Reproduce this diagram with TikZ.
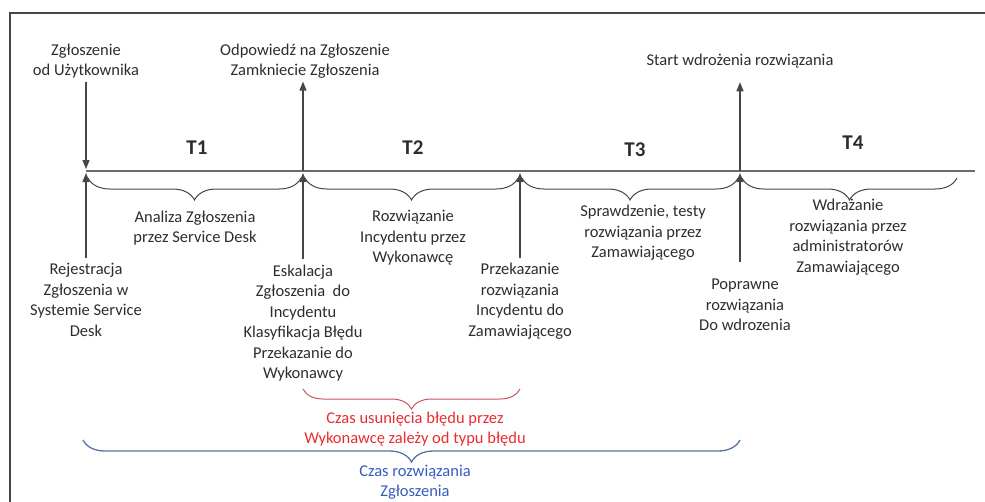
\documentclass[tikz,border=0pt]{standalone}
\usepackage{fontspec}
\setmainfont{Carlito}
\usetikzlibrary{decorations.pathreplacing,arrows.meta}
\definecolor{inkgray}{RGB}{45,45,45}
\definecolor{linegray}{RGB}{70,70,70}
\definecolor{errred}{RGB}{232,45,50}
\definecolor{bracered}{RGB}{200,85,95}
\definecolor{timeblue}{RGB}{55,90,190}
\definecolor{braceblue}{RGB}{85,115,165}
\tikzset{
  lbl/.style={align=center, font=\fontsize{16.5}{20.5}\selectfont, text=inkgray, inner sep=0pt},
  period/.style={font=\fontsize{21}{24}\selectfont\bfseries, text=inkgray, inner sep=0pt},
  tick/.style={draw=linegray, line width=1.3pt, -{Triangle[length=9pt,width=7pt]}},
  span/.style={draw=linegray, line width=1pt, decorate, decoration={brace, mirror, amplitude=22pt}},
}
\begin{document}
\begin{tikzpicture}[x=1pt,y=-1pt]

\useasboundingbox (0,0) rectangle (985,501);
\draw [linegray, line width=1.5pt] (10,505) -- (10,13) -- (990,13);

\coordinate (t0) at (86,171);
\coordinate (t1) at (303,171);
\coordinate (t2) at (520,171);
\coordinate (t3) at (740,171);
\coordinate (t4) at (957,171);
\coordinate (tend) at (975,171);
\draw [linegray!80, line width=1.5pt] (t0) -- (tend);

\node[period] (p1) at (197,148) {T1};
\node[period] (p2) at (413,148) {T2};
\node[period] (p3) at (635,150) {T3};
\node[period] (p4) at (853,143) {T4};

\node[lbl] (usr) at (86,61) {Zgłoszenie\\od Użytkownika};
\node[lbl] (resp) at (305,61) {Odpowiedź na Zgłoszenie\\Zamkniecie Zgłoszenia};
\node[lbl] (start) at (740,61) {Start wdrożenia rozwiązania};

\node[lbl] (analiza) at (195,228) {Analiza Zgłoszenia\\przez Service Desk};
\node[lbl] (rozw) at (413,238) {Rozwiązanie\\Incydentu przez\\Wykonawcę};
\node[lbl] (spraw) at (643,233) {Sprawdzenie, testy\\rozwiązania przez\\Zamawiającego};
\node[lbl] (wdraz) at (848,237) {Wdrażanie\\rozwiązania przez\\administratorów\\Zamawiającego};

\node[lbl] (rej) at (86,300) {Rejestracja\\Zgłoszenia w\\Systemie Service\\Desk};
\node[lbl] (esk) at (303,323) {Eskalacja\\Zgłoszenia~ do\\Incydentu\\Klasyfikacja Błędu\\Przekazanie do\\Wykonawcy};
\node[lbl] (przek) at (520,301) {Przekazanie\\rozwiązania\\Incydentu do\\Zamawiającego};
\node[lbl] (popr) at (745,305) {Poprawne\\rozwiązania\\Do wdrozenia};

\draw [tick, shorten <=3pt, shorten >=2pt] (usr.south) -- (t0);
\draw [tick, shorten <=5pt, shorten >=2pt] (rej.north) -- (t0);
\draw [tick, shorten <=5pt, shorten >=2pt] (esk.north) -- (t1);
\draw [tick, shorten >=3pt] (t1) -- (resp.south -| t1);
\draw [tick, shorten <=5pt, shorten >=2pt] (przek.north) -- (t2);
\draw [tick, shorten <=17pt, shorten >=2pt] (popr.north -| t3) -- (t3);
\draw [tick, shorten >=14pt] (t3) -- (start.south -| t3);

\draw [span] ([xshift=2pt,yshift=-7pt]t0) -- ([xshift=-2pt,yshift=-7pt]t1);
\draw [span] ([xshift=2pt,yshift=-7pt]t1) -- ([xshift=-2pt,yshift=-7pt]t2);
\draw [span] ([xshift=2pt,yshift=-7pt]t2) -- ([xshift=-2pt,yshift=-7pt]t3);
\draw [span] ([xshift=2pt,yshift=-7pt]t3) -- ([yshift=-7pt]t4);

\coordinate (r0) at (303,389);
\coordinate (r1) at (520,389);
\draw [span, draw=bracered, decoration={amplitude=20pt}] (r0) -- (r1);
\node[lbl, text=errred] (errtime) at (415,429) {Czas usunięcia błędu przez\\Wykonawcę zależy od typu błędu};

\coordinate (b0) at (83,440);
\coordinate (b1) at (740,440);
\draw [span, draw=braceblue, line width=1.3pt] (b0) -- (b1);
\node[lbl, text=timeblue] (soltime) at (415,482) {Czas rozwiązania\\Zgłoszenia};

\end{tikzpicture}
\end{document}
